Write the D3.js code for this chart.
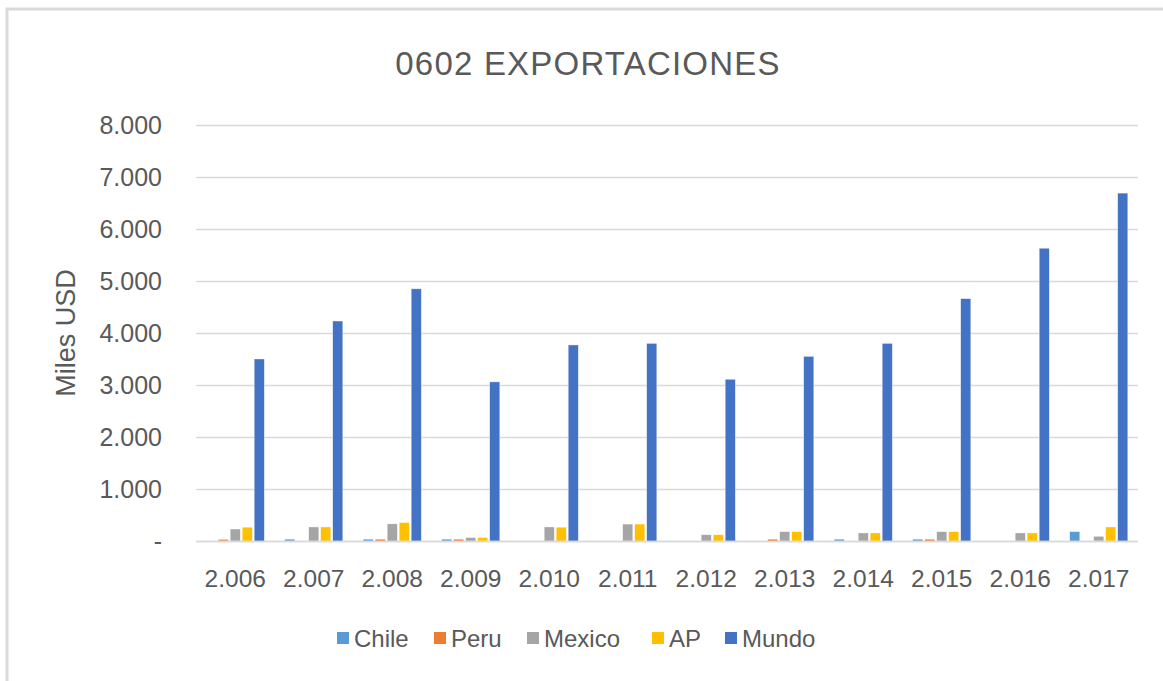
<!DOCTYPE html>
<html>
<head>
<meta charset="utf-8">
<script src="https://cdn.jsdelivr.net/npm/d3@7"></script>
<style>
  html, body { margin: 0; padding: 0; background: #fff; }
  svg { display: block; }
  text { font-family: "Liberation Sans", "DejaVu Sans", sans-serif; fill: #595959; }
</style>
</head>
<body>
<svg id="chart" width="1163" height="681"></svg>
<script>
const years = ["2.006","2.007","2.008","2.009","2.010","2.011","2.012","2.013","2.014","2.015","2.016","2.017"];
const seriesNames = ["Chile","Peru","Mexico","AP","Mundo"];
const seriesColors = ["#5b9bd5","#ed7d31","#a5a5a5","#ffc000","#4472c4"];
const chile  = [0, 35, 35, 35, 0, 0, 0, 0, 35, 35, 0, 180];
const peru   = [30, 0, 35, 35, 0, 0, 0, 35, 0, 35, 0, 0];
const mexico = [230, 270, 330, 65, 270, 325, 120, 180, 155, 180, 155, 90];
const ap     = [265, 270, 355, 65, 265, 325, 120, 180, 155, 180, 155, 270];
const mundo  = [3500, 4230, 4850, 3060, 3770, 3800, 3110, 3550, 3800, 4660, 5630, 6690];
const yTicks = [0, 1000, 2000, 3000, 4000, 5000, 6000, 7000, 8000];
const tickLabels = ["-", "1.000", "2.000", "3.000", "4.000", "5.000", "6.000", "7.000", "8.000"];

const seriesData = [chile, peru, mexico, ap, mundo];

const svg = d3.select("#chart");
const pLeft = 196, pRight = 1138, pTop = 125, pBottom = 541;

// outer border
svg.append("rect").attr("x", 7).attr("y", 9).attr("width", 1170).attr("height", 700)
  .attr("fill", "none").attr("stroke", "#d9d9d9").attr("stroke-width", 3);

const x0 = d3.scaleBand().domain(years).range([pLeft, pRight]).paddingInner(0.26).paddingOuter(0.13);
const x1 = d3.scaleBand().domain(seriesNames).range([0, x0.bandwidth()]).paddingInner(0.16);
const y = d3.scaleLinear().domain([0, 8000]).range([pBottom, pTop]);

// gridlines
svg.append("g").selectAll("line").data(yTicks).join("line")
  .attr("x1", pLeft).attr("x2", pRight)
  .attr("y1", d => Math.round(y(d)) + 0.5).attr("y2", d => Math.round(y(d)) + 0.5)
  .attr("stroke", "#d9d9d9").attr("stroke-width", 1.3);

// y axis labels
const yAxis = d3.axisLeft(y).tickValues(yTicks).tickFormat((d, i) => tickLabels[i]).tickSize(0).tickPadding(0);
const yg = svg.append("g").attr("transform", `translate(${pLeft - 34},0)`).call(yAxis);
yg.select(".domain").remove();
yg.selectAll("text").attr("font-size", 25).attr("fill", "#595959")
  .attr("font-family", "Liberation Sans, sans-serif").attr("dy", "0.35em");

// bars
const groups = svg.append("g").selectAll("g").data(years).join("g")
  .attr("transform", d => `translate(${x0(d)},0)`);
groups.selectAll("rect").data((d, i) => seriesNames.map((s, j) => ({ s, j, v: seriesData[j][i] })))
  .join("rect")
  .attr("x", d => x1(d.s))
  .attr("width", x1.bandwidth())
  .attr("y", d => y(d.v))
  .attr("height", d => pBottom - y(d.v))
  .attr("fill", d => seriesColors[d.j])
  .attr("stroke", "#ffffff").attr("stroke-width", 0.6).attr("stroke-opacity", 0.6);

// baseline
svg.append("line").attr("x1", pLeft).attr("x2", pRight).attr("y1", pBottom + 0.5).attr("y2", pBottom + 0.5)
  .attr("stroke", "#d9d9d9").attr("stroke-width", 1.3);

// x axis labels
const xAxis = d3.axisBottom(x0).tickSize(0).tickPadding(0);
const xg = svg.append("g").attr("transform", `translate(0,${bottomLabelY()})`).call(xAxis);
function bottomLabelY() { return pBottom + 37; }
xg.select(".domain").remove();
xg.selectAll("text").attr("font-size", 24.5).attr("fill", "#595959")
  .attr("font-family", "Liberation Sans, sans-serif").attr("dy", "0.35em");

// title
svg.append("text").attr("x", 588).attr("y", 75).attr("text-anchor", "middle")
  .attr("font-size", 33).attr("letter-spacing", 1.2).text("0602 EXPORTACIONES");

// y title
svg.append("text").attr("transform", "translate(66,333) rotate(-90)").attr("text-anchor", "middle")
  .attr("dy", "0.35em").attr("font-size", 27).text("Miles USD");

// legend
const legendX = [337, 434, 527, 652, 725];
const lg = svg.append("g").selectAll("g").data(seriesNames).join("g")
  .attr("transform", (d, i) => `translate(${legendX[i]},638)`);
lg.append("rect").attr("x", 0).attr("y", -6).attr("width", 12).attr("height", 12)
  .attr("fill", (d, i) => seriesColors[i]);
lg.append("text").attr("x", 17).attr("y", 1).attr("dy", "0.35em").attr("font-size", 24).text(d => d);
</script>
</body>
</html>
